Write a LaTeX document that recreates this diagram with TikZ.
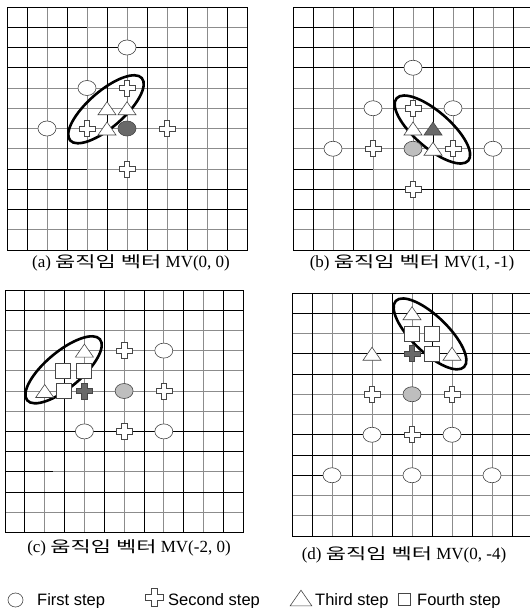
\documentclass[tikz,border=0pt]{standalone}
\usepackage{fontspec}
\setmainfont{Liberation Serif}
\newfontfamily\krfont[FakeStretch=1.42]{Noto Sans CJK KR}
\newfontfamily\legendfont{Liberation Sans}
\usetikzlibrary{shapes.geometric}
\definecolor{GridGray}{RGB}{140,140,140}
\definecolor{MarkEdge}{RGB}{70,70,70}
\definecolor{StartGray}{RGB}{190,190,190}
\definecolor{BestGray}{RGB}{105,105,105}
\tikzset{
  gridgray/.style={draw=GridGray,line width=0.8pt},
  gridblack/.style={draw=black,line width=0.8pt},
  firstpt/.style={ellipse,draw=MarkEdge,fill=white,line width=0.6pt,
    minimum width=18pt,minimum height=15pt,inner sep=0pt},
  startpt/.style={firstpt,fill=StartGray},
  bestpt/.style={firstpt,fill=BestGray},
  fourthpt/.style={rectangle,draw=MarkEdge,fill=white,line width=0.6pt,
    minimum size=15pt,inner sep=0pt},
  selring/.style={ellipse,draw=black,line width=2.6pt,
    minimum width=95pt,minimum height=36pt,inner sep=0pt},
  caption/.style={font=\fontsize{17}{20}\selectfont},
  legend/.style={font=\legendfont\fontsize{16.5}{19}\selectfont,
    anchor=base west,inner sep=0pt},
  secondpt/.pic={
    \draw[draw=MarkEdge,fill=#1,line width=0.6pt]
      (-2.7pt,-8pt) -- (2.7pt,-8pt) -- (2.7pt,-2.7pt) -- (8pt,-2.7pt)
      -- (8pt,2.7pt) -- (2.7pt,2.7pt) -- (2.7pt,8pt) -- (-2.7pt,8pt)
      -- (-2.7pt,2.7pt) -- (-8pt,2.7pt) -- (-8pt,-2.7pt) -- (-2.7pt,-2.7pt) -- cycle;
  },
  thirdpt/.pic={
    \draw[draw=MarkEdge,fill=#1,line width=0.6pt]
      (-9pt,-6.5pt) -- (9pt,-6.5pt) -- (0pt,6.5pt) -- cycle;
  }
}
\newcommand{\kr}[1]{{\krfont\fontsize{15.5}{20}\selectfont #1}}
% #1 = black rows, #2 = short black rows (row/length)
\newcommand{\searchgrid}[2]{
  \foreach \k in {0,...,12} \draw[gridgray] (0,\k) -- (12,\k);
  \foreach \k in {2,4,...,10} \draw[gridgray] (\k,0) -- (\k,12);
  \foreach \k in {1,3,...,11} \draw[gridblack] (\k,0) -- (\k,12);
  \foreach \k in {#1} \draw[gridblack] (0,\k) -- (12,\k);
  \foreach \k/\len in {#2} \draw[gridblack] (0,\k) -- (\len,\k);
  \draw[gridblack] (0,0) rectangle (12,12);
}

\begin{document}
\begin{tikzpicture}[x=1pt,y=-1pt]
  \fill[white] (0,0) rectangle (530,608);
  \useasboundingbox (0,0) rectangle (530,608);

  % (a) MV(0,0)
  \begin{scope}[shift={(7,7)},x=20pt,y=-20.25pt]
    \searchgrid{2,3,9,10}{1/4,8/4}
    \node[selring,rotate=41] (aRing) at (4.95,5.05) {};
    \node[bestpt] (aStart) at (6,6) {};
    \node[firstpt] (aF1) at (6,2) {};
    \node[firstpt] (aF2) at (4,4) {};
    \node[firstpt] (aF3) at (2,6) {};
    \pic (aS1) at (6,4) {secondpt=white};
    \pic (aS2) at (4,6) {secondpt=white};
    \pic (aS3) at (8,6) {secondpt=white};
    \pic (aS4) at (6,8) {secondpt=white};
    \pic (aT1) at (5,5) {thirdpt=white};
    \pic (aT2) at (6,5) {thirdpt=white};
    \pic (aT3) at (5,6) {thirdpt=white};
  \end{scope}
  \node[caption] (capA) at (131,263) {(a) \kr{움직임 벡터} MV(0, 0)};

  % (b) MV(1,-1)
  \begin{scope}[shift={(293,7)},x=20pt,y=-20.25pt]
    \searchgrid{2,3,9,10}{1/4,8/4}
    \node[selring,rotate=-41] (bRing) at (6.97,6.05) {};
    \node[startpt] (bStart) at (6,7) {};
    \node[firstpt] (bF1) at (6,3) {};
    \node[firstpt] (bF2) at (4,5) {};
    \node[firstpt] (bF3) at (8,5) {};
    \node[firstpt] (bF4) at (2,7) {};
    \node[firstpt] (bF5) at (10,7) {};
    \pic (bS1) at (6,5) {secondpt=white};
    \pic (bS2) at (4,7) {secondpt=white};
    \pic (bS3) at (8,7) {secondpt=white};
    \pic (bS4) at (6,9) {secondpt=white};
    \pic (bT1) at (6,6) {thirdpt=white};
    \pic (bT2) at (7,6) {thirdpt=BestGray};
    \pic (bT3) at (7,7) {thirdpt=white};
  \end{scope}
  \node[caption] (capB) at (412,263) {(b) \kr{움직임 벡터} MV(1, -1)};

  % (c) MV(-2,0)
  \begin{scope}[shift={(5,290)},x=19.85pt,y=-20.2pt]
    \searchgrid{1,7,8,10}{9/2.4}
    \node[selring,rotate=40] (cRing) at (2.95,3.95) {};
    \node[startpt] (cStart) at (6,5) {};
    \node[firstpt] (cF1) at (8,3) {};
    \node[firstpt] (cF2) at (4,7) {};
    \node[firstpt] (cF3) at (8,7) {};
    \pic (cS1) at (6,3) {secondpt=white};
    \pic (cS2) at (8,5) {secondpt=white};
    \pic (cS3) at (6,7) {secondpt=white};
    \pic (cS4) at (4,5) {secondpt=BestGray};
    \pic (cT1) at (4,3) {thirdpt=white};
    \pic (cT2) at (2,5) {thirdpt=white};
    \node[fourthpt] (cQ1) at (2.9,4) {};
    \node[fourthpt] (cQ2) at (3.95,4) {};
    \node[fourthpt] (cQ3) at (2.95,5) {};
  \end{scope}
  \node[caption] (capC) at (129,548) {(c) \kr{움직임 벡터} MV(-2, 0)};

  % (d) MV(0,-4)
  \begin{scope}[shift={(292,293)},x=20pt,y=-20.25pt]
    \searchgrid{1,3,4,7,8}{9/2}
    \node[selring,rotate=-44] (dRing) at (6.9,2.02) {};
    \node[startpt] (dStart) at (6,5) {};
    \node[firstpt] (dF1) at (4,7) {};
    \node[firstpt] (dF2) at (8,7) {};
    \node[firstpt] (dF3) at (2,9) {};
    \node[firstpt] (dF4) at (6,9) {};
    \node[firstpt] (dF5) at (10,9) {};
    \pic (dS1) at (4,5) {secondpt=white};
    \pic (dS2) at (8,5) {secondpt=white};
    \pic (dS3) at (6,7) {secondpt=white};
    \pic (dS4) at (6,3) {secondpt=BestGray};
    \pic (dT1) at (6,1) {thirdpt=white};
    \pic (dT2) at (4,3) {thirdpt=white};
    \pic (dT3) at (8,3) {thirdpt=white};
    \node[fourthpt] (dQ1) at (6,2) {};
    \node[fourthpt] (dQ2) at (7,2) {};
    \node[fourthpt] (dQ3) at (7,3) {};
  \end{scope}
  \node[caption] (capD) at (404,555) {(d) \kr{움직임 벡터} MV(0, -4)};

  % legend
  \node[firstpt,fill=none,minimum width=15pt,minimum height=14pt] (keyFirst) at (15.5,600) {};
  \node[legend] (txtFirst) at (37,605) {First step};
  \pic[scale=1.1] (keySecond) at (154,597.5) {secondpt=none};
  \node[legend] (txtSecond) at (168,605) {Second step};
  \pic[scale=1.2] (keyThird) at (301,598) {thirdpt=none};
  \node[legend] (txtThird) at (315,605) {Third step};
  \node[fourthpt,fill=none,minimum size=12pt] (keyFourth) at (404,599) {};
  \node[legend] (txtFourth) at (417,605) {Fourth step};
\end{tikzpicture}
\end{document}
